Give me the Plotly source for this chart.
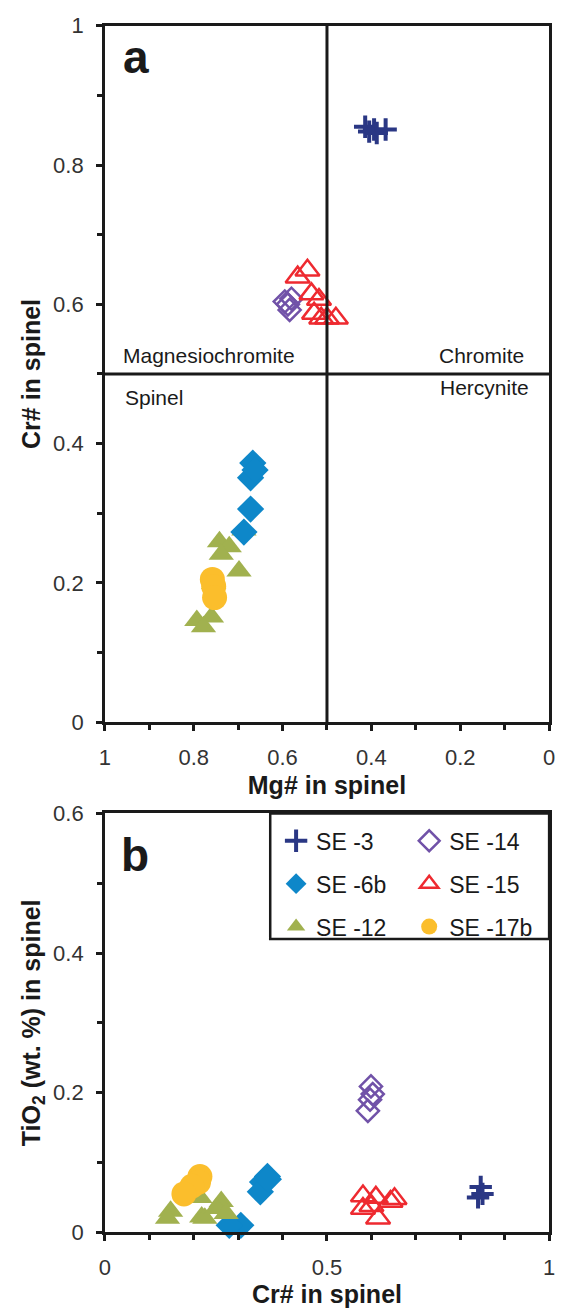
import plotly.graph_objects as go

# ---------------- data ----------------
# Panel a: Mg# (x) vs Cr# (y)
a_se3_mg = [0.414, 0.405, 0.394, 0.388, 0.368]
a_se3_cr = [0.855, 0.848, 0.851, 0.846, 0.851]
a_se14_mg = [0.595, 0.588, 0.580, 0.584]
a_se14_cr = [0.604, 0.600, 0.608, 0.592]
a_se15_mg = [0.544, 0.566, 0.535, 0.518, 0.529, 0.500, 0.480, 0.513]
a_se15_cr = [0.649, 0.639, 0.615, 0.607, 0.587, 0.580, 0.580, 0.580]
a_se6b_mg = [0.667, 0.672, 0.662, 0.672, 0.687]
a_se6b_cr = [0.372, 0.351, 0.362, 0.306, 0.273]
a_se12_mg = [0.687, 0.742, 0.720, 0.738, 0.698, 0.793, 0.760, 0.778, 0.755]
a_se12_cr = [0.276, 0.259, 0.252, 0.241, 0.217, 0.146, 0.151, 0.137, 0.199]
a_se17b_mg = [0.758, 0.755, 0.753]
a_se17b_cr = [0.205, 0.195, 0.179]

# Panel b: Cr# (x) vs TiO2 wt.% (y)
b_se3_cr = [0.846, 0.850, 0.840]
b_se3_ti = [0.065, 0.055, 0.050]
b_se14_cr = [0.599, 0.603, 0.592, 0.597]
b_se14_ti = [0.209, 0.198, 0.174, 0.190]
b_se15_cr = [0.581, 0.610, 0.652, 0.643, 0.581, 0.615, 0.600]
b_se15_ti = [0.052, 0.050, 0.048, 0.044, 0.034, 0.020, 0.038]
b_se6b_cr = [0.366, 0.355, 0.350, 0.368, 0.306, 0.280]
b_se6b_ti = [0.080, 0.072, 0.058, 0.076, 0.010, 0.010]
b_se12_cr = [0.148, 0.141, 0.218, 0.225, 0.262, 0.251, 0.273, 0.214]
b_se12_ti = [0.030, 0.020, 0.022, 0.020, 0.044, 0.034, 0.027, 0.050]
b_se17b_cr = [0.214, 0.211, 0.196, 0.178]
b_se17b_ti = [0.080, 0.072, 0.066, 0.055]

a_xticks = [1, 0.8, 0.6, 0.4, 0.2, 0]
a_xticklabels = ["1", "0.8", "0.6", "0.4", "0.2", "0"]
a_yticks = [0, 0.2, 0.4, 0.6, 0.8, 1]
a_yticklabels = ["0", "0.2", "0.4", "0.6", "0.8", "1"]
b_xticks = [0, 0.5, 1]
b_xticklabels = ["0", "0.5", "1"]
b_yticks = [0, 0.2, 0.4, 0.6]
b_yticklabels = ["0", "0.2", "0.4", "0.6"]

# ---------------- styles ----------------
NAVY = "#2A3784"
BLUE = "#0E87C9"
PURPLE = "#7152A8"
RED = "#EE2A30"
OLIVE = "#A1B14F"
YELLOW = "#FBBE2C"
INK = "#1a1a1a"
FONT = "Liberation Sans, Arial, sans-serif"

styles = {
    "SE -3": dict(symbol="cross-thin-open", size=16, color=NAVY, line=dict(color=NAVY, width=4)),
    "SE -14": dict(symbol="diamond-open", size=17, color=PURPLE, line=dict(color=PURPLE, width=2.5)),
    "SE -6b": dict(symbol="diamond", size=21, color=BLUE, line=dict(width=0)),
    "SE -15": dict(symbol="triangle-up-open", size=21, color=RED, line=dict(color=RED, width=2.5)),
    "SE -12": dict(symbol="triangle-up", size=22, color=OLIVE, line=dict(width=0)),
    "SE -17b": dict(symbol="circle", size=25, color=YELLOW, line=dict(width=0)),
}

fig = go.Figure()

a_series = [
    ("SE -12", a_se12_mg, a_se12_cr),
    ("SE -17b", a_se17b_mg, a_se17b_cr),
    ("SE -6b", a_se6b_mg, a_se6b_cr),
    ("SE -14", a_se14_mg, a_se14_cr),
    ("SE -15", a_se15_mg, a_se15_cr),
    ("SE -3", a_se3_mg, a_se3_cr),
]
for name, xs, ys in a_series:
    fig.add_trace(go.Scatter(x=xs, y=ys, mode="markers", name=name, marker=styles[name],
                             xaxis="x", yaxis="y", showlegend=False, cliponaxis=False))

b_series = [
    ("SE -3", b_se3_cr, b_se3_ti, "legend"),
    ("SE -6b", b_se6b_cr, b_se6b_ti, "legend"),
    ("SE -12", b_se12_cr, b_se12_ti, "legend"),
    ("SE -14", b_se14_cr, b_se14_ti, "legend2"),
    ("SE -15", b_se15_cr, b_se15_ti, "legend2"),
    ("SE -17b", b_se17b_cr, b_se17b_ti, "legend2"),
]
for name, xs, ys, lg in b_series:
    fig.add_trace(go.Scatter(x=xs, y=ys, mode="markers", name=name, marker=styles[name],
                             xaxis="x2", yaxis="y2", legend=lg, legendgroup=name,
                             cliponaxis=False))

W, H = 561, 1313
def px_x(p):
    return p / W
def px_y(p):
    return 1 - p / H

minor_ticks = dict(dtick=0.1, ticks="outside", ticklen=5, tickwidth=2.5, tickcolor=INK)
axis_common = dict(
    showline=True, linewidth=2.5, linecolor=INK, mirror=True,
    ticks="outside", ticklen=6, tickwidth=2.5, tickcolor=INK,
    showgrid=False, zeroline=False, ticklabelstandoff=8, ticklabeloverflow="allow",
    tickfont=dict(family=FONT, size=22, color="#333333"),
    title_font=dict(family=FONT, size=25, color=INK, weight="bold"),
)

ann_font = dict(family=FONT, size=21, color=INK)

fig.update_layout(
    width=W, height=H,
    margin=dict(l=0, r=0, t=0, b=0),
    paper_bgcolor="white", plot_bgcolor="white",
    font=dict(family=FONT, size=18, color=INK),
    xaxis=dict(domain=[px_x(101), px_x(555)], anchor="y", range=[1, 0],
               tickvals=a_xticks, ticktext=a_xticklabels, minor=minor_ticks,
               title=dict(text="Mg# in spinel", standoff=8), **axis_common),
    yaxis=dict(domain=[px_y(724), px_y(14)], anchor="x", range=[0, 1],
               tickvals=a_yticks, ticktext=a_yticklabels, minor=minor_ticks,
               title=dict(text="Cr# in spinel", standoff=6), **axis_common),
    xaxis2=dict(domain=[px_x(101), px_x(555)], anchor="y2", range=[0, 1],
                tickvals=b_xticks, ticktext=b_xticklabels, minor=minor_ticks,
                title=dict(text="Cr# in spinel", standoff=4), **axis_common),
    yaxis2=dict(domain=[px_y(1244), px_y(817)], anchor="x2", range=[0, 0.6],
                tickvals=b_yticks, ticktext=b_yticklabels, minor=minor_ticks,
                title=dict(text="TiO<sub>2</sub> (wt. %) in spinel", standoff=6), **axis_common),
    legend=dict(x=px_x(276), y=px_y(823), xanchor="left", yanchor="top",
                bgcolor="rgba(0,0,0,0)", borderwidth=0, tracegroupgap=10,
                font=dict(family=FONT, size=23, color=INK)),
    legend2=dict(x=px_x(412), y=px_y(823), xanchor="left", yanchor="top",
                 bgcolor="rgba(0,0,0,0)", borderwidth=0, tracegroupgap=10,
                 font=dict(family=FONT, size=23, color=INK)),
    shapes=[
        dict(type="line", xref="x", yref="y", x0=0.5, x1=0.5, y0=0, y1=1,
             line=dict(color=INK, width=3)),
        dict(type="line", xref="x", yref="y", x0=0, x1=1, y0=0.5, y1=0.5,
             line=dict(color=INK, width=3)),
        dict(type="rect", xref="paper", yref="paper", x0=px_x(270), x1=px_x(555),
             y0=px_y(945), y1=px_y(817), fillcolor="white",
             line=dict(color=INK, width=2.5), layer="above"),
    ],
    annotations=[
        dict(text="Magnesiochromite", x=0.963, y=0.527, xref="x", yref="y",
             xanchor="left", yanchor="middle", showarrow=False, font=ann_font),
        dict(text="Chromite", x=0.053, y=0.527, xref="x", yref="y",
             xanchor="right", yanchor="middle", showarrow=False, font=ann_font),
        dict(text="Spinel", x=0.958, y=0.466, xref="x", yref="y",
             xanchor="left", yanchor="middle", showarrow=False, font=ann_font),
        dict(text="Hercynite", x=0.04, y=0.48, xref="x", yref="y",
             xanchor="right", yanchor="middle", showarrow=False, font=ann_font),
        dict(text="<b>a</b>", x=0.93, y=0.955, xref="x", yref="y",
             xanchor="center", yanchor="middle", showarrow=False,
             font=dict(family=FONT, size=46, color=INK)),
        dict(text="<b>b</b>", x=0.068, y=0.54, xref="x2", yref="y2",
             xanchor="center", yanchor="middle", showarrow=False,
             font=dict(family=FONT, size=46, color=INK)),
    ],
)

fig.write_html("out.html", post_script="document.body.style.margin='0';")
